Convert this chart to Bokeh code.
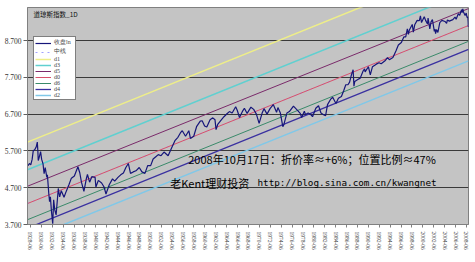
from bokeh.plotting import figure
from bokeh.models import (ColumnDataSource, Range1d, FixedTicker, Legend, LegendItem,
                          Label)
from bokeh.embed import file_html
from bokeh.resources import INLINE

# ---------------- data ----------------
years = [1928.00, 1928.25, 1928.50, 1928.75, 1928.95, 1929.25, 1929.50, 1929.70, 1929.80, 1929.87,
         1930.00, 1930.30, 1930.50, 1930.75, 1930.95, 1931.15, 1931.45, 1931.55, 1931.80, 1931.95,
         1932.10, 1932.30, 1932.53, 1932.70, 1932.90, 1933.15, 1933.55, 1933.80, 1934.10, 1934.60,
         1935.00, 1935.50, 1935.95, 1936.50, 1937.15, 1937.50, 1937.80, 1938.25, 1938.70, 1938.90,
         1939.30, 1939.70, 1940.30, 1940.45, 1940.90, 1941.50, 1941.95, 1942.30, 1942.90, 1943.50,
         1943.90, 1944.50, 1945.00, 1945.50, 1945.95, 1946.40, 1946.80, 1947.30, 1947.80, 1948.40,
         1948.90, 1949.45, 1949.95, 1950.50, 1950.95, 1951.50, 1951.90, 1952.40, 1952.95, 1953.70,
         1954.40, 1954.95, 1955.50, 1955.95, 1956.30, 1956.90, 1957.50, 1957.80, 1958.40, 1958.95,
         1959.60, 1959.95, 1960.40, 1960.80, 1961.40, 1961.90, 1962.30, 1962.50, 1962.80, 1963.50,
         1963.95, 1964.50, 1964.95, 1965.45, 1966.10, 1966.40, 1966.80, 1967.40, 1967.70, 1968.20,
         1968.90, 1969.40, 1969.90, 1970.40, 1970.95, 1971.30, 1971.85, 1972.40, 1973.00, 1973.60,
         1973.85, 1974.30, 1974.75, 1974.95, 1975.50, 1975.95, 1976.70, 1977.40, 1977.95, 1978.20,
         1978.70, 1978.90, 1979.40, 1979.80, 1980.20, 1980.80, 1981.30, 1981.75, 1982.30, 1982.60,
         1982.95, 1983.50, 1983.90, 1984.50, 1984.95, 1985.50, 1985.95, 1986.30, 1986.70, 1987.00,
         1987.30, 1987.65, 1987.80, 1987.95, 1988.50, 1988.95, 1989.50, 1989.75, 1989.85, 1990.45,
         1990.80, 1991.20, 1991.90, 1992.40, 1992.80, 1993.50, 1993.95, 1994.30, 1994.95, 1995.50,
         1995.95, 1996.50, 1996.95, 1997.30, 1997.60, 1997.80, 1997.95, 1998.50, 1998.70, 1998.95,
         1999.40, 1999.80, 2000.00, 2000.20, 2000.70, 2000.95, 2001.30, 2001.40, 2001.72, 2001.95,
         2002.20, 2002.55, 2002.70, 2002.78, 2002.95, 2003.20, 2003.55, 2003.95, 2004.50, 2004.80,
         2004.95, 2005.30, 2005.95, 2006.35, 2006.55, 2006.95, 2007.20, 2007.55, 2007.65, 2007.78,
         2007.90, 2008.20, 2008.40, 2008.55, 2008.70, 2008.76, 2008.79, 2008.80]
close_ln = [5.30, 5.36, 5.32, 5.47, 5.70, 5.74, 5.81, 5.94, 5.70, 5.44,
            5.50, 5.68, 5.47, 5.35, 5.08, 5.25, 4.98, 5.05, 4.55, 4.32,
            4.45, 4.05, 3.72, 4.37, 4.10, 3.96, 4.68, 4.45, 4.62, 4.44,
            4.60, 4.78, 4.96, 5.02, 5.27, 5.10, 4.85, 4.60, 4.95, 5.06,
            4.85, 5.00, 4.98, 4.72, 4.90, 4.83, 4.72, 4.53, 4.78, 4.94,
            4.88, 4.98, 5.05, 5.10, 5.25, 5.36, 5.09, 5.13, 5.16, 5.25,
            5.13, 5.09, 5.30, 5.30, 5.48, 5.55, 5.60, 5.57, 5.67, 5.57,
            5.80, 5.98, 6.07, 6.19, 6.25, 6.10, 6.25, 6.04, 6.10, 6.37,
            6.51, 6.52, 6.38, 6.35, 6.55, 6.60, 6.55, 6.28, 6.42, 6.55,
            6.63, 6.71, 6.77, 6.73, 6.90, 6.80, 6.61, 6.79, 6.86, 6.72,
            6.89, 6.83, 6.70, 6.45, 6.73, 6.85, 6.70, 6.85, 6.96, 6.75,
            6.88, 6.73, 6.36, 6.42, 6.73, 6.77, 6.92, 6.81, 6.72, 6.61,
            6.78, 6.69, 6.73, 6.70, 6.63, 6.86, 6.93, 6.73, 6.68, 6.66,
            6.96, 7.10, 7.16, 6.99, 7.13, 7.18, 7.35, 7.50, 7.50, 7.57,
            7.75, 7.91, 7.46, 7.59, 7.64, 7.68, 7.88, 7.93, 7.85, 7.99,
            7.77, 7.99, 8.06, 8.10, 8.07, 8.15, 8.24, 8.18, 8.24, 8.42,
            8.58, 8.65, 8.80, 8.80, 9.02, 8.87, 8.98, 9.14, 8.93, 9.13,
            9.25, 9.24, 9.37, 9.19, 9.35, 9.25, 9.15, 9.31, 9.02, 9.21,
            9.27, 8.95, 9.01, 8.89, 9.00, 8.92, 9.19, 9.25, 9.22, 9.17,
            9.26, 9.23, 9.27, 9.34, 9.28, 9.43, 9.39, 9.54, 9.46, 9.56,
            9.48, 9.38, 9.45, 9.33, 9.34, 9.20, 9.07, 9.09]

# channel lines: value at first and last date
line_names = ["中线", "d1", "d3", "d5", "d0", "d6", "d4", "d2"]
line_start = [4.27, 5.94, 5.19, 4.74, 4.27, 3.83, 3.60, 3.30]
line_end = [9.11, 10.79, 10.04, 9.57, 9.11, 8.68, 8.46, 8.15]
line_x0 = 1927.9
line_x1 = 2008.82

y_ticks = [3.7, 4.7, 5.7, 6.7, 7.7, 8.7]
tick_years = list(range(1928, 2009, 2))
tick_labels = [f"{y}-06" for y in tick_years]

# ---------------- styling ----------------
line_colors = ["#a0a0ff", "#eeee88", "#60d0d0", "#7a2a6a", "#d8506a", "#3a8a6a", "#3a30a0", "#80c8e8"]
line_widths = [1, 1.5, 1.5, 1, 1, 1, 1.3, 1.5]
line_dashes = ["dotted", "solid", "solid", "solid", "solid", "solid", "solid", "solid"]

p = figure(width=475, height=262, output_backend="svg", toolbar_location=None,
           x_range=Range1d(1927.9, 2008.82), y_range=Range1d(3.7, 9.6),
           min_border_left=27, min_border_right=7, min_border_top=7, min_border_bottom=38)
p.background_fill_color = "#c4c4c4"
p.border_fill_color = "white"
p.outline_line_color = "#808080"

renderers = {}
for i, name in enumerate(line_names):
    src = ColumnDataSource(dict(x0=[line_x0], y0=[line_start[i]], x1=[line_x1], y1=[line_end[i]]))
    r = p.segment("x0", "y0", "x1", "y1", source=src, line_color=line_colors[i],
                  line_width=line_widths[i], line_dash=line_dashes[i])
    renderers[name] = r

main_src = ColumnDataSource(dict(x=years, y=close_ln))
r_main = p.line("x", "y", source=main_src, line_color="#16167a", line_width=1.2)
renderers["收盘ln"] = r_main

# axes
p.yaxis.ticker = FixedTicker(ticks=y_ticks)
p.yaxis.major_label_overrides = {t: f"{t:.3f}" for t in y_ticks}
p.yaxis.major_label_text_font = "Liberation Serif"
p.yaxis.major_label_text_font_size = "7.5px"
p.yaxis.major_label_text_color = "#333333"
p.yaxis.major_tick_out = 4
p.yaxis.major_tick_in = 0
p.yaxis.minor_tick_line_color = None
p.yaxis.axis_line_color = "#808080"
p.yaxis.major_tick_line_color = "#606060"
p.yaxis.major_label_standoff = 2

tick_pos = [y + 0.45 for y in tick_years]
p.xaxis.ticker = FixedTicker(ticks=tick_pos)
p.xaxis.major_label_overrides = {tp: lab for tp, lab in zip(tick_pos, tick_labels)}
p.xaxis.major_label_orientation = -1.5708
p.xaxis.major_label_text_font = "Liberation Serif"
p.xaxis.major_label_text_font_size = "5.5px"
p.xaxis.major_label_text_color = "#444444"
p.xaxis.major_tick_out = 3
p.xaxis.major_tick_in = 0
p.xaxis.minor_tick_line_color = None
p.xaxis.axis_line_color = "#808080"
p.xaxis.major_tick_line_color = "#808080"
p.xaxis.major_label_standoff = 4

p.xgrid.grid_line_color = None
p.ygrid.grid_line_color = "#3a3a3a"
p.ygrid.grid_line_width = 1

# legend
order = ["收盘ln", "中线", "d1", "d3", "d5", "d0", "d6", "d4", "d2"]
items = [LegendItem(label=n, renderers=[renderers[n]]) for n in order]
legend = Legend(items=items, location=(6, 124), orientation="vertical",
                label_text_font_size="6px", label_text_font="Liberation Serif",
                label_height=6, glyph_height=6, glyph_width=16, spacing=0,
                padding=1, margin=0, label_standoff=3,
                background_fill_color="white", background_fill_alpha=1,
                border_line_color="black", border_line_width=1)
p.add_layout(legend, "center")

# texts
p.add_layout(Label(x=1929.0, y=9.43, text="道琼斯指数_1D", text_font="Noto Sans CJK SC",
                   text_font_size="6.5px", text_baseline="middle", text_color="#111111"))
p.add_layout(Label(x=1957.4, y=5.49, text="2008年10月17日：折价率≈+6%；位置比例≈47%",
                   text_font="Noto Sans CJK SC", text_font_size="11px",
                   text_baseline="middle", text_color="black"))
p.add_layout(Label(x=1954.1, y=4.84, text="老Kent理财投资",
                   text_font="Noto Sans CJK SC", text_font_size="11px",
                   text_baseline="middle", text_color="black"))
p.add_layout(Label(x=1970.1, y=4.84, text="http://blog.sina.com.cn/kwangnet",
                   text_font="DejaVu Sans Mono", text_font_size="9.3px",
                   text_baseline="middle", text_color="black"))

open("out.html", "w").write(file_html(p, INLINE))
